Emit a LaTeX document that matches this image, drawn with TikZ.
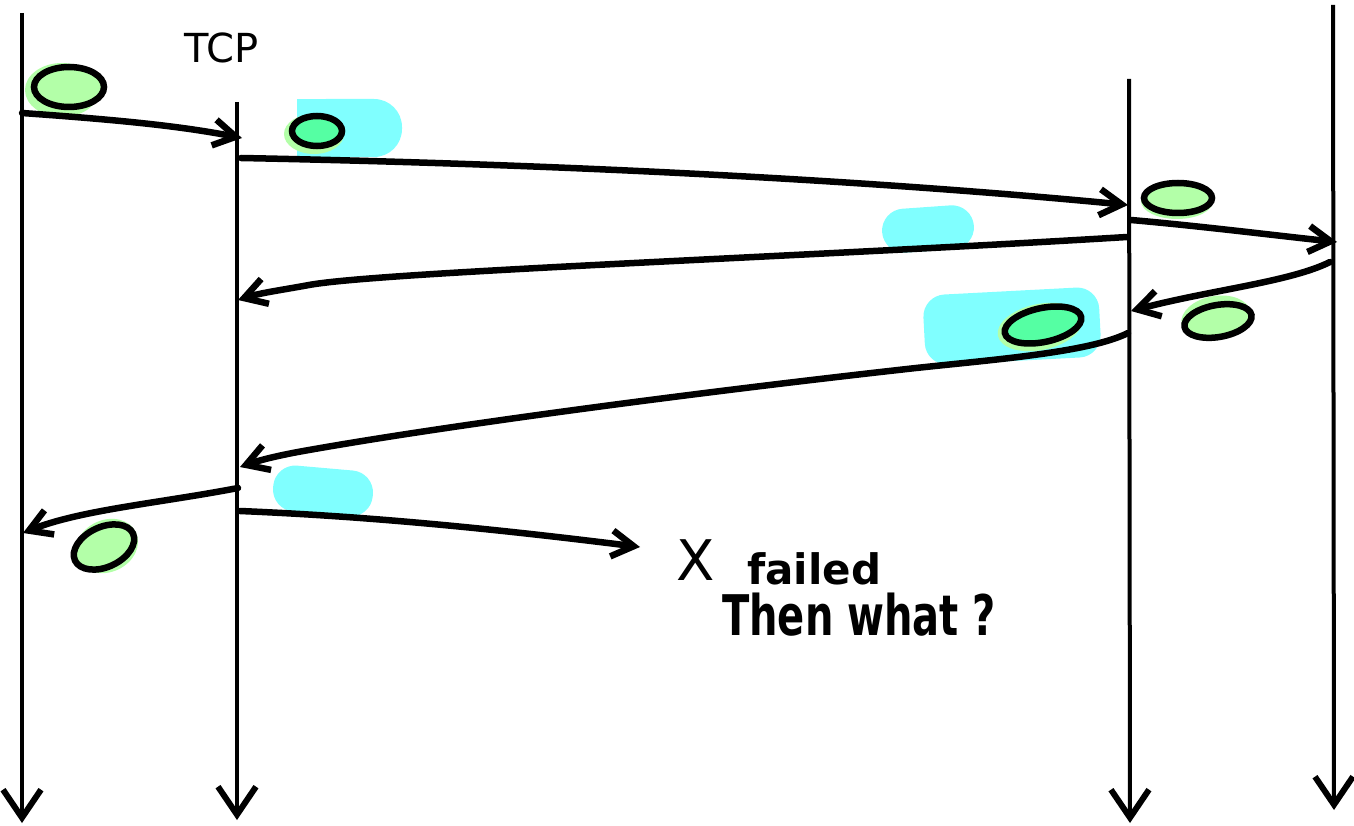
\documentclass[tikz,border=0pt]{standalone}
\usepackage{fontspec}
\setmainfont{DejaVu Sans}
\usetikzlibrary{arrows.meta,shapes.geometric}
\definecolor{lgreen}{HTML}{B3FFA8}
\definecolor{mint}{HTML}{55FFA3}
\definecolor{cyanhi}{HTML}{80FFFF}
\tikzset{
  life/.style={line width=4pt, -{Straight Barb[length=28pt,width=38pt,line width=6pt]}},
  msg/.style={line width=6.5pt, line cap=round, -{Straight Barb[length=22pt,width=26pt,line width=6.5pt]}},
  blob/.style={ellipse, draw=black, line width=6.5pt, inner sep=0pt},
  halo/.style={ellipse, fill=lgreen, draw=none, inner sep=0pt},
  hilite/.style={fill=cyanhi, draw=none, rounded corners=22pt, inner sep=0pt},
  hand/.style={inner sep=0pt, anchor=base west}
}
\begin{document}
\begin{tikzpicture}[x=1pt,y=-1pt]
\useasboundingbox (0,0) rectangle (1354,826);
\fill[white] (0,0) rectangle (1354,826);

% highlights (cyan)
\node[hilite, minimum width=104pt, minimum height=58pt, rounded corners=28pt] (h1) at (350,128) {};
\fill[cyanhi] (297,99) rectangle (330,157);
\node[hilite, minimum width=92pt, minimum height=44pt, rotate=4] (h2) at (928,229) {};
\node[hilite, minimum width=176pt, minimum height=70pt, rotate=3] (h3) at (1012,326) {};
\node[hilite, minimum width=100pt, minimum height=46pt, rotate=-5] (h4) at (323,491) {};

% green halos
\node[halo, minimum width=74pt, minimum height=54pt] (g1h) at (62,90) {};
\node[halo, minimum width=60pt, minimum height=40pt] (g2h) at (314,134) {};
\node[halo, minimum width=72pt, minimum height=36pt] (g3h) at (1177,201) {};
\node[halo, minimum width=86pt, minimum height=46pt, rotate=12] (g4h) at (1040,327) {};
\node[halo, minimum width=70pt, minimum height=44pt, rotate=10] (g5h) at (1216,318) {};
\node[halo, minimum width=64pt, minimum height=52pt, rotate=25] (g6h) at (107,546) {};

% outlined blobs
\node[blob, fill=lgreen, minimum width=70pt, minimum height=40pt] (p1) at (69,87) {};
\node[blob, fill=mint, minimum width=50pt, minimum height=30pt] (p2) at (317,131) {};
\node[blob, fill=lgreen, minimum width=68pt, minimum height=30pt] (p3) at (1178,198) {};
\node[blob, fill=mint, minimum width=78pt, minimum height=34pt, rotate=12] (p4) at (1043,325) {};
\node[blob, fill=lgreen, minimum width=68pt, minimum height=32pt, rotate=10] (p5) at (1218,321) {};
\node[blob, fill=lgreen, minimum width=64pt, minimum height=40pt, rotate=25] (p6) at (104,547) {};

% lifelines
\coordinate (l1t) at (22,13);   \coordinate (l1b) at (22,823);
\coordinate (l2t) at (237,102); \coordinate (l2b) at (237,820);
\coordinate (l3t) at (1129,79); \coordinate (l3b) at (1130,823);
\coordinate (l4t) at (1333,5);  \coordinate (l4b) at (1334,810);
\draw[life] (l1t) -- (l1b);
\draw[life] (l2t) -- (l2b);
\draw[life] (l3t) -- (l3b);
\draw[life] (l4t) -- (l4b);

% message endpoints
\coordinate (a1) at (22,113);   \coordinate (b1) at (242,138);
\coordinate (a2) at (241,158);  \coordinate (b2) at (1128,205);
\coordinate (a3) at (1131,220); \coordinate (b3) at (1337,242);
\coordinate (a4) at (1330,262); \coordinate (b4) at (1131,311);
\coordinate (a5) at (1127,237); \coordinate (b5) at (238,300);
\coordinate (a6) at (1128,333); \coordinate (b6) at (240,467);
\coordinate (a7) at (238,488);  \coordinate (b7) at (23,533);
\coordinate (a8) at (240,511);  \coordinate (b8) at (640,547);

\draw[msg] (a1) .. controls (120,120) and (180,126) .. (b1);
\draw[msg] (a2) .. controls (600,165) and (900,183) .. (b2);
\draw[msg] (a3) .. controls (1200,226) and (1280,236) .. (b3);
\draw[msg] (a4) .. controls (1290,282) and (1210,290) .. (b4);
\draw[msg] (a5) .. controls (800,257) and (380,272) .. (309,285) .. controls (280,290.3) and (260,293) .. (b5);
\draw[msg] (a6) .. controls (1090,352) and (1000,359) .. (916,368) .. controls (700,392) and (450,425) .. (309,450) .. controls (280,455) and (260,460) .. (b6);
\draw[msg] (a7) .. controls (160,503) and (80,510) .. (b7);
\draw[msg] (a8) .. controls (360,516) and (480,527) .. (b8);

% texts
\node[hand, font=\fontsize{40}{44}\selectfont] (tcp) at (184,63) {TCP};
\node[hand, font=\fontsize{56}{60}\selectfont] (x) at (676,580) {X};
\node[hand, font=\bfseries\fontsize{42}{46}\selectfont] (failed) at (747,584) {failed};
\node[hand, font=\bfseries\fontsize{40}{44}\selectfont] (then) at (722,635) {\scalebox{1}[1.4]{Then what ?}};
\end{tikzpicture}
\end{document}
